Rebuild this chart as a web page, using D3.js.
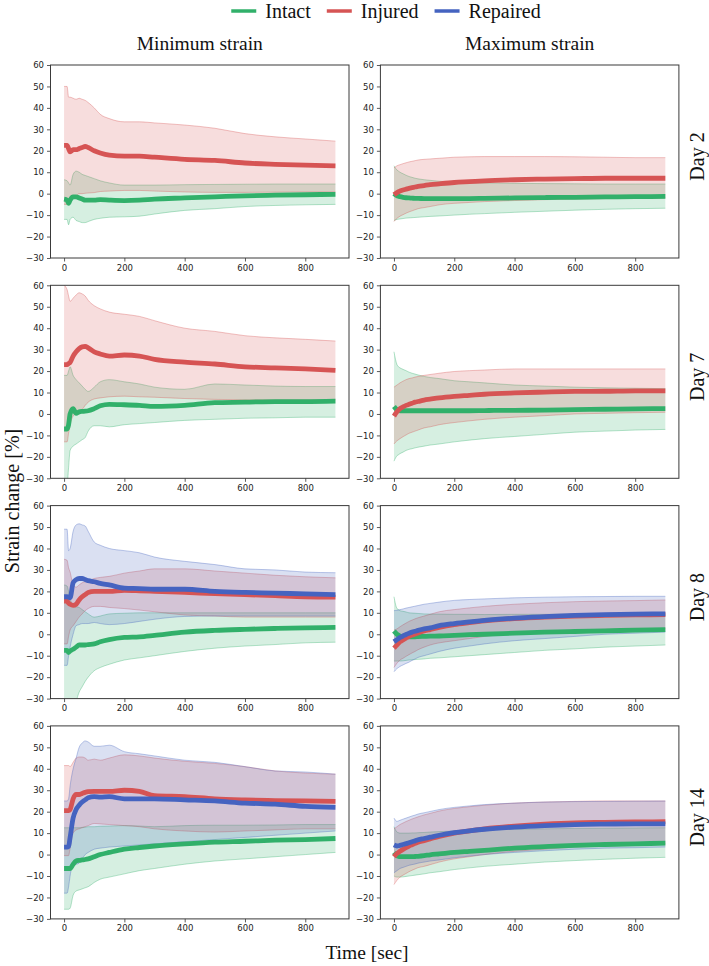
<!DOCTYPE html>
<html><head><meta charset="utf-8">
<script src="https://cdn.jsdelivr.net/npm/d3@7"></script>
<style>body{margin:0;background:#fff}</style>
</head><body><svg id="c" width="709" height="966"></svg>
<script>
// ---------------- DATA ----------------
const times = [0,10,15,20,30,40,50,60,70,80,100,120,150,200,250,300,400,500,600,700,800,900];
const seriesNames = ["Intact","Injured","Repaired"];
const seriesColors = ["#31b06a","#d65454","#4563c0"];
const colTitles = ["Minimum strain","Maximum strain"];
const rowLabels = ["Day 2","Day 7","Day 8","Day 14"];
const yTicks = [-30,-20,-10,0,10,20,30,40,50,60];
const xTicks = [0,200,400,600,800];

// Day 2 - minimum strain
const d2MinIntact   = [-2.5,-3,-4.5,-3,-1.5,-1.5,-2,-2.5,-3,-3,-3,-2.8,-3,-3.2,-3,-2.5,-2,-1.5,-1,-0.7,-0.5,-0.3];
const d2MinIntactHi = [6.5,6,5,4,9,10.5,10,9,8.5,8,7,6,5,4,4,4,4.2,4.3,4.4,4.5,4.5,4.5];
const d2MinIntactLo = [-12,-12,-14.5,-12,-11,-12.5,-13,-13.5,-13.5,-13,-12,-11.5,-11,-10.8,-10.5,-9.5,-7.8,-7,-6,-5.5,-5.2,-5];
const d2MinInjured   = [22.5,22.5,21,19.5,20.5,20.5,21,21.5,22,21.5,20,19,18,17.5,17.5,17,16,15.5,14.3,13.7,13.3,13];
const d2MinInjuredHi = [50,50,45,45,44.5,44,44.5,44,43.5,42.5,40,37,35,33.5,33.5,33,32,30.5,28,26.5,25.5,24.5];
const d2MinInjuredLo = [-5,-5,-4.5,-4,-2,-1,0,0,0.2,0.3,0.5,1,1.2,1.5,1.5,1.2,0.8,0.6,0.6,0.7,0.8,0.8];

// Day 2 - maximum strain
const d2MaxIntact   = [0,-1,-1.2,-1.4,-1.7,-1.9,-2,-2.1,-2.2,-2.2,-2.3,-2.3,-2.3,-2.3,-2.3,-2.2,-2,-1.8,-1.7,-1.5,-1.4,-1.3];
const d2MaxIntactHi = [13,11,10.5,10,9.3,8.6,8,7.6,7.2,6.9,6.5,6.2,5.8,5.5,5.2,5,4.8,4.7,4.6,4.5,4.5,4.5];
const d2MaxIntactLo = [-12.5,-12,-11.9,-11.8,-11.6,-11.4,-11.3,-11.2,-11.1,-11,-10.8,-10.6,-10.4,-10,-9.6,-9.3,-8.7,-8.2,-7.7,-7.3,-7,-6.8];
const d2MaxInjured   = [-0.5,0.5,0.9,1.2,1.7,2.1,2.5,2.8,3.1,3.4,3.8,4.2,4.6,5.2,5.6,6,6.5,6.8,7,7.2,7.2,7.2];
const d2MaxInjuredHi = [12,13,13.3,13.5,14,14.4,14.8,15.1,15.4,15.7,16,16.2,16.5,17,17.2,17.3,17.3,17.3,17.2,17,16.8,16.8];
const d2MaxInjuredLo = [-13,-11.5,-11,-10.5,-9.8,-9.1,-8.5,-8,-7.5,-7,-6.5,-6,-5.2,-4.5,-4.1,-3.7,-3.2,-2.8,-2.5,-2.3,-2.2,-2];

// Day 7 - minimum strain
const d7MinIntact   = [-7,-7,-5,0,2.5,0.3,1,1.2,1.3,1.5,2.5,3.8,4.5,4.3,4,3.5,4,5.3,5.5,5.8,5.8,6];
const d7MinIntactHi = [18,18,20,22,18,16,14.5,13,11.5,10.5,12.5,15,16,15,14,12.5,11.5,14,13.5,13,12.8,12.8];
const d7MinIntactLo = [-33,-33,-25,-17,-15,-14,-13,-12,-11,-8,-5.5,-5.5,-6,-5,-4.5,-4,-3,-2.5,-2,-1.8,-1.5,-1.5];
const d7MinInjured   = [23,23,23.5,24,27,29,30.5,31.3,31.5,30.8,29,28,27,27.5,27,25.5,24.2,23.3,22,21.5,21,20.3];
const d7MinInjuredHi = [60,58,55,52.5,54,55.5,56.5,56,55,53,50.5,49,47.5,46.5,45.5,43.5,40,38.5,36.5,35.5,34.8,34];
const d7MinInjuredLo = [-13,-13,-9,-5,-1,0,0,2,4,5.5,7,7.5,8,8.3,8,7.8,7.2,6.8,6.6,6.5,6.5,6.5];

// Day 7 - maximum strain
const d7MaxIntact   = [3.5,2,1.8,1.5,1.5,1.5,1.5,1.5,1.5,1.5,1.5,1.5,1.5,1.5,1.5,1.6,1.7,1.8,2,2.2,2.4,2.5];
const d7MaxIntactHi = [29,23,22,21.5,20.8,20.2,19.5,19,18.6,18.2,17.5,17,16.5,15.5,15,14.5,13.5,13,12.5,12.2,12,11.8];
const d7MaxIntactLo = [-22,-19.5,-19,-18.5,-17.8,-17,-16.5,-16.2,-15.8,-15.5,-15,-14.5,-14,-13,-12.2,-11.5,-10.5,-9.5,-8.5,-8,-7.5,-7.2];
const d7MaxInjured   = [-1,1,1.8,2.5,3.3,4,4.5,5,5.5,5.8,6.5,6.9,7.5,8.2,8.7,9.2,9.8,10.2,10.5,10.6,10.8,10.8];
const d7MaxInjuredHi = [12.5,13.5,14,14.5,15.3,16,16.5,16.8,17.2,17.5,18,18.4,19,19.8,20.2,20.5,21,21,21,21,21,21];
const d7MaxInjuredLo = [-14,-12.5,-12,-11.5,-10.6,-9.8,-9,-8.5,-8,-7.5,-6.5,-6,-5,-4,-3.2,-2.5,-1.5,-0.8,0,0.3,0.6,0.8];

// Day 8 - minimum strain
const d8MinIntact   = [-7.5,-7.5,-8.5,-7.8,-7,-6,-5,-5,-5,-4.8,-4.5,-3.5,-2.5,-1.5,-1.2,-0.5,1,1.8,2.3,2.7,3,3.2];
const d8MinIntactHi = [23,22.5,20,17,13,12.8,12.5,11.5,10.5,9.5,8,8.5,9.5,9.8,10,10,10,10,10,10,10,10];
const d8MinIntactLo = [-33,-33,-33,-33,-33,-31,-27,-24.5,-22,-20,-17,-15.5,-14,-12,-11,-10,-8,-6.5,-5.5,-4.8,-4,-3.7];
const d8MinInjured   = [15.5,15.5,14.5,14,13.5,14,16,17.5,18.5,19.5,20,20,20,20.5,20.3,20,19.5,19,18.5,18,17.5,17.3];
const d8MinInjuredHi = [35,34.5,31,29,23,22,23,24,24.5,25,26,26.5,27,28.5,29.5,30.5,30.5,29.5,28.5,27.5,26.8,26.3];
const d8MinInjuredLo = [-4.5,-4.5,-1,2,4,6,8,9.5,11,12,13,13,12.5,12,11.3,10.5,9,8.5,8,8,8,8];
const d8MinRepaired   = [17.5,17.5,17.3,17,24,25.5,26,26,25.5,25,24.5,23.7,23,21.5,21.3,21,21,20,19.5,19.2,18.8,18.5];
const d8MinRepairedHi = [49,49,39,40,48,51,51.5,51,50.5,48,43,41.5,40,39,38,36,34,32.5,30.5,30,29,28.7];
const d8MinRepairedLo = [-14.5,-14.5,-10,-6,0,4,4.5,5,5,5,5.5,5,4.5,5,6,7,8.3,8.5,8.5,8.5,8.5,8.5];

// Day 8 - maximum strain
const d8MaxIntact   = [1.5,0,-0.4,-0.8,-1,-1.1,-1.2,-1.2,-1.2,-1.1,-1,-0.9,-0.8,-0.5,-0.2,0,0.5,1,1.3,1.6,1.9,2.2];
const d8MaxIntactHi = [17.5,12,11.5,11,10.7,10.4,10,9.9,9.8,9.7,9.5,9.4,9.4,9.3,9.3,9.2,9.3,9.3,9.4,9.4,9.5,9.5];
const d8MaxIntactLo = [-12.5,-12.5,-12.5,-12.5,-12.4,-12.2,-12,-11.9,-11.8,-11.7,-11.5,-11.2,-11,-10.5,-10,-9.5,-8.5,-7.5,-6.8,-6,-5.5,-5];
const d8MaxInjured   = [-6.5,-5,-4.2,-3.5,-2.6,-1.8,-1,-0.4,0.1,0.6,1.5,2.2,3.2,4.5,5.4,6.2,7.3,8,8.5,8.8,9,9.2];
const d8MaxInjuredHi = [2,2.5,3,3.5,4.4,5.2,6,6.6,7.2,7.7,8.5,9.3,10.5,11.5,12.3,13,14,14.7,15.2,15.5,15.7,16];
const d8MaxInjuredLo = [-15.5,-13.5,-12.7,-12,-11.2,-10.3,-9.5,-8.7,-8,-7.2,-6,-5,-4,-3,-2,-1,0.5,1.3,2,2.3,2.5,2.5];
const d8MaxRepaired   = [-3.5,-2.5,-2,-1.5,-0.8,-0.1,0.5,1,1.4,1.8,2.5,3,4,5,5.8,6.5,7.5,8.2,8.8,9.2,9.4,9.5];
const d8MaxRepairedHi = [11,11.2,11.3,11.5,11.8,12.2,12.5,12.8,13.1,13.4,14,14.4,15,15.8,16.2,16.5,17,17.3,17.5,17.6,17.7,17.7];
const d8MaxRepairedLo = [-17.5,-16,-15.5,-15,-14.3,-13.6,-13,-12.2,-11.5,-10.8,-10,-9.2,-8,-6.5,-5.5,-4.5,-3,-2,-1,0,0.5,1];

// Day 14 - minimum strain
const d14MinIntact   = [-6.5,-6.5,-6.5,-6.5,-4.5,-3,-2.7,-2.5,-2.3,-2,-1,0,1,2.5,3.3,4,5,5.8,6.2,6.7,7,7.5];
const d14MinIntactHi = [12.5,12.5,12.5,12.5,12.5,12.5,12.5,12.7,12.8,13,13,13.2,13.3,13.5,13.3,13,13.5,13.7,13.7,13.8,14,14];
const d14MinIntactLo = [-25.5,-25.5,-25.5,-25,-19,-17,-16.5,-16,-15.5,-15,-13,-11.5,-10.5,-9,-7.5,-6.5,-4.5,-3,-2,-1,0,1];
const d14MinInjured   = [20.5,20.5,20.5,21,26,28,28,28.5,29,29.3,29.5,29.5,29.5,30,29.5,27.5,27,26,25.5,25.2,25,24.8];
const d14MinInjuredHi = [41.5,41.5,41.5,41,43,45,45.5,45.5,45,44,44.5,44,45,46.5,46,45,43.5,42.5,41,39,38,37.5];
const d14MinInjuredLo = [-0.5,-0.5,-0.5,3,10,11.5,12,12.5,13,13.5,14.5,14.3,14,13.5,13,12,11,10.5,11,11.5,12,12];
const d14MinRepaired   = [3.5,3.5,3.8,8,17,21,23,24.5,25.5,26.5,27,26.8,27,26,26,26,25.5,25,24,23.5,22.5,22];
const d14MinRepairedHi = [25,25,26,32,40,45,50,52,53,52.5,50.5,50.5,51,48,47,46,44,43,41,39,38.5,37.5];
const d14MinRepairedLo = [-18,-18,-15,-10,-4,-4.5,-4,-2,0,1,2.5,3,3.5,4,4.5,5,6,7,8,9,10,11];

// Day 14 - maximum strain
const d14MaxIntact   = [1,-0.5,-0.8,-1,-1,-1,-1,-1,-0.9,-0.8,-0.5,-0.1,0.3,1,1.5,2,3,3.7,4.3,4.7,5,5.3];
const d14MaxIntactHi = [13,10.5,10.2,10,10,10,10,10.1,10.1,10.2,10.3,10.5,10.7,11,11.3,11.5,11.8,12,12.2,12.3,12.4,12.5];
const d14MaxIntactLo = [-10,-10.5,-10.5,-10.5,-10.4,-10.2,-10,-9.8,-9.6,-9.4,-9,-8.5,-8,-7,-6.2,-5.5,-4.5,-3.5,-2.8,-2.2,-1.7,-1.3];
const d14MaxInjured   = [-1,0.5,1,1.5,2.4,3.2,4,4.6,5.2,5.8,6.5,7.3,8.5,10,11.1,12,13.3,14.2,14.8,15,15.2,15.3];
const d14MaxInjuredHi = [12,13,13.5,14,14.7,15.4,16,16.6,17.1,17.6,18.5,19.2,20.3,21.5,22.3,23,24,24.5,24.8,25,25,25];
const d14MaxInjuredLo = [-14,-12,-11.2,-10.5,-9.6,-8.8,-8,-7.3,-6.7,-6.1,-5.5,-4.7,-3.5,-2,-1,0,1.5,2.5,3.5,4,4.5,5];
const d14MaxRepaired   = [4.5,4,4.1,4.3,4.7,5.1,5.5,6,6.4,6.9,7.5,8.1,9,10.2,11.1,11.8,12.8,13.5,14,14.2,14.3,14.3];
const d14MaxRepairedHi = [17,15.5,15.7,16,16.5,17,17.5,18,18.4,18.9,19.5,20.1,21,22,22.7,23.3,24,24.5,24.7,24.8,24.9,25];
const d14MaxRepairedLo = [-8.5,-7.5,-7,-6.5,-6,-5.5,-5,-4.7,-4.4,-4,-3.5,-3,-2.5,-1.5,-0.7,0,1,1.8,2.5,3,3.2,3.5];

// ---------------- PANEL TABLE ----------------
const panels = [
  {row:0,col:0,series:[[0,d2MinIntact,d2MinIntactLo,d2MinIntactHi],[1,d2MinInjured,d2MinInjuredLo,d2MinInjuredHi]]},
  {row:0,col:1,series:[[0,d2MaxIntact,d2MaxIntactLo,d2MaxIntactHi],[1,d2MaxInjured,d2MaxInjuredLo,d2MaxInjuredHi]]},
  {row:1,col:0,series:[[0,d7MinIntact,d7MinIntactLo,d7MinIntactHi],[1,d7MinInjured,d7MinInjuredLo,d7MinInjuredHi]]},
  {row:1,col:1,series:[[0,d7MaxIntact,d7MaxIntactLo,d7MaxIntactHi],[1,d7MaxInjured,d7MaxInjuredLo,d7MaxInjuredHi]]},
  {row:2,col:0,series:[[0,d8MinIntact,d8MinIntactLo,d8MinIntactHi],[1,d8MinInjured,d8MinInjuredLo,d8MinInjuredHi],[2,d8MinRepaired,d8MinRepairedLo,d8MinRepairedHi]]},
  {row:2,col:1,series:[[0,d8MaxIntact,d8MaxIntactLo,d8MaxIntactHi],[1,d8MaxInjured,d8MaxInjuredLo,d8MaxInjuredHi],[2,d8MaxRepaired,d8MaxRepairedLo,d8MaxRepairedHi]]},
  {row:3,col:0,series:[[0,d14MinIntact,d14MinIntactLo,d14MinIntactHi],[1,d14MinInjured,d14MinInjuredLo,d14MinInjuredHi],[2,d14MinRepaired,d14MinRepairedLo,d14MinRepairedHi]]},
  {row:3,col:1,series:[[0,d14MaxIntact,d14MaxIntactLo,d14MaxIntactHi],[1,d14MaxInjured,d14MaxInjuredLo,d14MaxInjuredHi],[2,d14MaxRepaired,d14MaxRepairedLo,d14MaxRepairedHi]]}
];

// ---------------- LAYOUT ----------------
const colLeft = [50.5, 380.4];
const panelW = 298.5;
const rowTop0 = 65, rowStep = 220.3, panelH = 193;
const serif = "'Liberation Serif','Times New Roman',serif";
const sans = "'DejaVu Sans',sans-serif";

const svg = d3.select("#c");
const fmt = d => d < 0 ? "\u2212" + Math.abs(d) : String(d);

panels.forEach((p, i) => {
  const x0 = colLeft[p.col], y0 = rowTop0 + p.row * rowStep;
  const x = d3.scaleLinear().domain([-45, 945]).range([x0, x0 + panelW]);
  const y = d3.scaleLinear().domain([-30, 60]).range([y0 + panelH, y0]);
  const cid = "clip" + i;
  svg.append("clipPath").attr("id", cid).append("rect")
    .attr("x", x0).attr("y", y0).attr("width", panelW).attr("height", panelH);
  const g = svg.append("g").attr("clip-path", `url(#${cid})`);

  const curve = d3.curveMonotoneX;
  // bands
  p.series.forEach(([k, m, lo, hi]) => {
    const c = seriesColors[k];
    const area = d3.area().x((d, j) => x(times[j])).y0((d, j) => y(lo[j])).y1((d, j) => y(hi[j])).curve(curve);
    g.append("path").datum(times).attr("d", area).attr("fill", c).attr("fill-opacity", 0.2);
    const lnLo = d3.line().x((d, j) => x(times[j])).y((d, j) => y(lo[j])).curve(curve);
    const lnHi = d3.line().x((d, j) => x(times[j])).y((d, j) => y(hi[j])).curve(curve);
    g.append("path").datum(times).attr("d", lnLo).attr("fill", "none").attr("stroke", c).attr("stroke-opacity", 0.35).attr("stroke-width", 1);
    g.append("path").datum(times).attr("d", lnHi).attr("fill", "none").attr("stroke", c).attr("stroke-opacity", 0.35).attr("stroke-width", 1);
  });
  // means
  p.series.forEach(([k, m]) => {
    const ln = d3.line().x((d, j) => x(times[j])).y((d, j) => y(m[j])).curve(curve);
    g.append("path").datum(times).attr("d", ln).attr("fill", "none")
      .attr("stroke", seriesColors[k]).attr("stroke-width", 4.8).attr("stroke-linejoin", "round");
  });

  // axes
  const ay = svg.append("g").attr("transform", `translate(${x0},0)`)
    .call(d3.axisLeft(y).tickValues(yTicks).tickSize(3.5).tickPadding(3).tickFormat(fmt));
  const ax = svg.append("g").attr("transform", `translate(0,${y0 + panelH})`)
    .call(d3.axisBottom(x).tickValues(xTicks).tickSize(3.5).tickPadding(3).tickFormat(fmt));
  [ay, ax].forEach(a => {
    a.select(".domain").remove();
    a.selectAll("line").attr("stroke", "#333").attr("stroke-width", 0.8);
    a.selectAll("text").attr("font-family", sans).attr("font-size", 8.5).attr("fill", "#222");
  });
  svg.append("rect").attr("x", x0).attr("y", y0).attr("width", panelW).attr("height", panelH)
    .attr("fill", "none").attr("stroke", "#3a3a3a").attr("stroke-width", 1);

  // row label on right column
  if (p.col === 1) {
    const cy = y0 + panelH / 2 - 5;
    svg.append("text").attr("transform", `translate(704,${cy}) rotate(-90)`)
      .attr("text-anchor", "middle").attr("font-family", serif).attr("font-size", 20)
      .attr("fill", "#111").text(rowLabels[p.row]);
  }
  if (p.row === 0) {
    svg.append("text").attr("x", x0 + panelW / 2).attr("y", 50).attr("text-anchor", "middle")
      .attr("font-family", serif).attr("font-size", 19.5).attr("fill", "#111").text(colTitles[p.col]);
  }
});

// axis titles
svg.append("text").attr("transform", "translate(19,501) rotate(-90)").attr("text-anchor", "middle")
  .attr("font-family", serif).attr("font-size", 20).attr("fill", "#111").text("Strain change [%]");
svg.append("text").attr("x", 367).attr("y", 959).attr("text-anchor", "middle")
  .attr("font-family", serif).attr("font-size", 19.5).attr("fill", "#111").text("Time [sec]");

// legend
const leg = svg.append("g");
let lx = 0;
seriesNames.forEach((name, k) => {
  leg.append("line").attr("x1", lx).attr("x2", lx + 25).attr("y1", 11).attr("y2", 11)
    .attr("stroke", seriesColors[k]).attr("stroke-width", 3.5);
  const t = leg.append("text").attr("x", lx + 34).attr("y", 18).attr("font-family", serif)
    .attr("font-size", 20).attr("fill", "#111").text(name);
  lx += 34 + t.node().getComputedTextLength() + 16;
});
lx -= 16;
leg.attr("transform", `translate(${386 - lx / 2},0)`);
</script></body></html>
